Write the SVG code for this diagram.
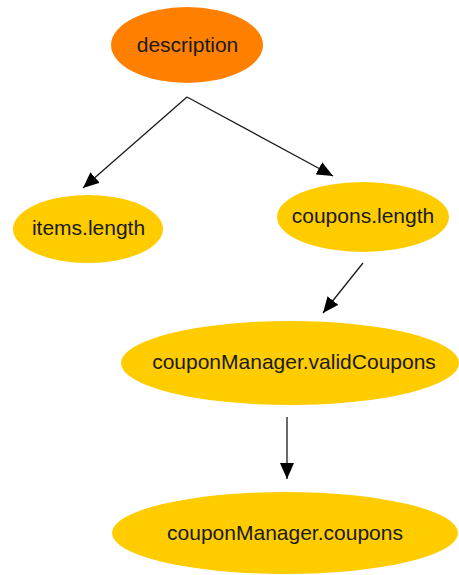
<svg xmlns="http://www.w3.org/2000/svg" width="459" height="575" viewBox="0 0 459 575">
<defs>
<style>
.n ellipse{fill:#ffcc00;}
.n text{font-family:"Liberation Sans",Arial,sans-serif;font-size:21px;fill:#1a1a1a;text-anchor:middle;}
.e line{stroke:#1a1a1a;stroke-width:1.3;marker-end:url(#ah);}
</style>
<marker id="ah" markerWidth="16" markerHeight="14" refX="16" refY="7" orient="auto" markerUnits="userSpaceOnUse">
<path d="M0,0 L16,7 L0,14 Z" fill="#000"/>
</marker>
</defs>
<rect width="459" height="575" fill="#fff"/>
<g id="description" class="n"><ellipse cx="187" cy="45" rx="76" ry="38" style="fill:#ff8000"/><text x="187.5" y="52">description</text></g>
<g id="items_length" class="n"><ellipse cx="88" cy="229" rx="75" ry="34"/><text x="88.5" y="235">items.length</text></g>
<g id="coupons_length" class="n"><ellipse cx="363" cy="217" rx="86" ry="35"/><text x="363" y="223">coupons.length</text></g>
<g id="validCoupons" class="n"><ellipse cx="290" cy="363" rx="169" ry="42"/><text x="294" y="369">couponManager.validCoupons</text></g>
<g id="coupons" class="n"><ellipse cx="285" cy="533" rx="173" ry="41"/><text x="285" y="540">couponManager.coupons</text></g>
<g id="edges" class="e">
<line x1="187" y1="97" x2="83" y2="188"/>
<line x1="187" y1="97" x2="333" y2="176"/>
<line x1="363" y1="263" x2="323" y2="313"/>
<line x1="287" y1="417" x2="287" y2="479"/>
</g>
</svg>
